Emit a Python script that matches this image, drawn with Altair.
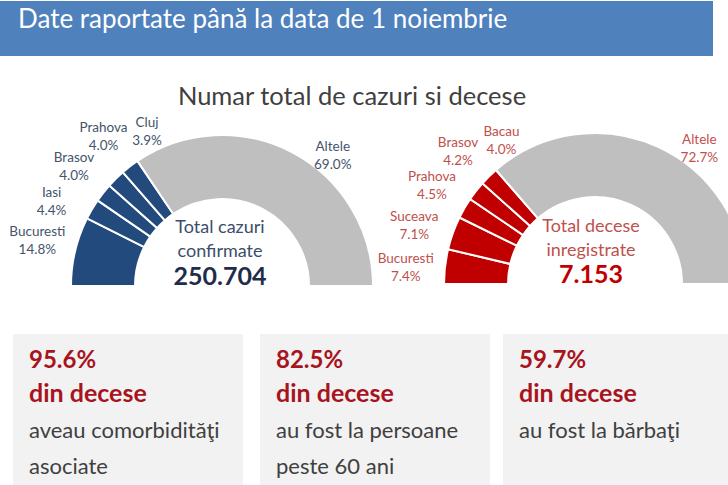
import math
import pandas as pd
import altair as alt

# ------------------------------------------------------------------ data
header_text = "Date raportate până la data de 1 noiembrie"
title_text = "Numar total de cazuri si decese"

cases_regions = ["Bucuresti", "Iasi", "Brasov", "Prahova", "Cluj", "Altele"]
cases_share = [14.8, 4.4, 4.0, 4.0, 3.9, 69.0]
cases_caption = "Total cazuri\nconfirmate"
cases_total = "250.704"

deaths_regions = ["Bucuresti", "Suceava", "Prahova", "Brasov", "Bacau", "Altele"]
deaths_share = [7.4, 7.1, 4.5, 4.2, 4.0, 72.7]
deaths_caption = "Total decese\ninregistrate"
deaths_total = "7.153"

stat_values = [95.6, 82.5, 59.7]
stat_subtitle = "din decese"
stat_texts = ["aveau comorbidităţi\nasociate",
              "au fost la persoane\npeste 60 ani",
              "au fost la bărbaţi"]

# ------------------------------------------------------------------ style / layout
FONT = "Lato"
W, H = 728, 485
HEADER_BLUE = "#4f81bd"
GRAY = "#bfbfbf"
BLUE = "#234a7d"
RED = "#c00000"
BLUE_LABEL = "#44546a"
RED_LABEL = "#c0504d"
R_OUT, R_IN = 151, 87
R_LABEL = 190            # ring for the small-slice labels
R_LABEL_NEAR = 171       # ring for the label next to the big slice, and the big one
LABEL_SHIFT = 1.6        # labels sit slightly counter-clockwise of slice middles
BIG_SHARE = 25           # slices above this get a single label near the arc
BIG_BIAS = 0.2
LABEL_LH = 18
LABEL_SIZE = 13.5


def label_positions(shares, gap):
    """Midpoint of every slice, spread apart so that small-slice labels don't collide."""
    mids, cum = [], 0.0
    for s in shares:
        mids.append(cum + s / 2)
        cum += s
    small = [i for i, s in enumerate(shares) if s < BIG_SHARE]

    def place(c):
        m = sum(mids[i] for i in c) / len(c) + LABEL_SHIFT
        start = m - gap * (len(c) - 1) / 2
        return [start + gap * k for k in range(len(c))]

    clusters = [[i] for i in small]
    changed = True
    while changed:
        changed = False
        for j in range(len(clusters) - 1):
            a, b = place(clusters[j]), place(clusters[j + 1])
            if b[0] - a[-1] < gap:
                clusters[j] = clusters[j] + clusters[j + 1]
                del clusters[j + 1]
                changed = True
                break
    pos = {}
    for c in clusters:
        for i, p in zip(c, place(c)):
            pos[i] = p
    for i, s in enumerate(shares):
        if s >= BIG_SHARE:
            pos[i] = mids[i] + BIG_BIAS * s / 2
    return [pos[i] for i in range(len(shares))]


def donut(regions, shares, cx, cy, main_color, label_color, gap):
    total = sum(shares)
    big = [s >= BIG_SHARE for s in shares]
    near = [(not big[i]) and i + 1 < len(shares) and big[i + 1] for i in range(len(shares))]
    df = pd.DataFrame({
        "region": regions,
        "share": shares,
        "idx": list(range(len(regions))),
        "label_pos": label_positions(shares, gap),
        "outer_ring": [not (b or n) for b, n in zip(big, near)],
    })
    theta_scale = alt.Scale(domain=[0, total], range=[-math.pi / 2, math.pi / 2])
    base = alt.Chart(df)
    arcs = base.mark_arc(radius=R_OUT, radius2=R_IN, stroke="white", strokeWidth=2).encode(
        theta=alt.Theta("share:Q", stack=True, scale=theta_scale),
        order=alt.Order("idx:Q", sort="ascending"),
        detail="region:N",
        color=alt.condition(alt.datum.region == "Altele", alt.value(GRAY), alt.value(main_color)),
        x=alt.value(cx), y=alt.value(cy),
    )
    lab = base.transform_calculate(
        label="datum.region + '\\n' + format(datum.share, '.1f') + '%'"
    )
    text_kw = dict(lineBreak="\n", lineHeight=LABEL_LH, dy=-LABEL_LH / 2, font=FONT,
                   fontSize=LABEL_SIZE, color=label_color, align="center", baseline="middle")
    enc = dict(theta=alt.Theta("label_pos:Q", stack=None, scale=theta_scale),
               text="label:N", x=alt.value(cx), y=alt.value(cy))
    outer = lab.transform_filter("datum.outer_ring").mark_text(radius=R_LABEL, **text_kw).encode(**enc)
    inner = lab.transform_filter("!datum.outer_ring").mark_text(radius=R_LABEL_NEAR, **text_kw).encode(**enc)
    return alt.layer(arcs, outer, inner)


one = pd.DataFrame({"k": [0]})


def txt(text, x, y, size, color, weight="normal", align="left", baseline="alphabetic", lh=None):
    kw = dict(font=FONT, fontSize=size, color=color, fontWeight=weight, align=align, baseline=baseline)
    if lh:
        kw.update(lineBreak="\n", lineHeight=lh)
    return alt.Chart(one).mark_text(**kw).encode(text=alt.value(text), x=alt.value(x), y=alt.value(y))


def rect(x, x2, y, y2, color):
    return alt.Chart(one).mark_rect(color=color).encode(
        x=alt.value(x), x2=alt.value(x2), y=alt.value(y), y2=alt.value(y2))


layers = [
    rect(0, 713, 1, 56, HEADER_BLUE),
    txt(header_text, 18, 28, 26, "white"),
    txt(title_text, 352, 105, 25.5, "#404040", align="center"),
]

left = donut(cases_regions, cases_share, 222, 286, BLUE, BLUE_LABEL, gap=7.0)
right = donut(deaths_regions, deaths_share, 595, 284, RED, RED_LABEL, gap=7.2)

layers += [
    txt(cases_caption, 220, 233, 18, "#3b4e6b", align="center", lh=24),
    txt(cases_total, 220, 285, 25, "#1f2d4a", weight="bold", align="center"),
    txt(deaths_caption, 591, 232, 18, RED_LABEL, align="center", lh=24),
    txt(deaths_total, 591, 283, 25, RED, weight="bold", align="center"),
]

box_x = [13, 260, 503]
box_w = 230
for bx, v, desc in zip(box_x, stat_values, stat_texts):
    layers += [
        rect(bx, bx + box_w, 334, H, "#f2f2f2"),
        txt(f"{v:.1f}%", bx + 16, 368, 24, "#a8141e", weight="bold"),
        txt(stat_subtitle, bx + 16, 402, 25, "#a8141e", weight="bold"),
        txt(desc, bx + 16, 438, 22, "#404040", lh=36),
    ]

chart = alt.layer(*layers, left, right).resolve_scale(theta="independent").properties(
    width=W, height=H, autosize=alt.AutoSizeParams(type="none"), padding=0,
    background="white",
).configure_view(stroke=None)

chart.save("out.html", embed_options={"renderer": "svg", "actions": False})
